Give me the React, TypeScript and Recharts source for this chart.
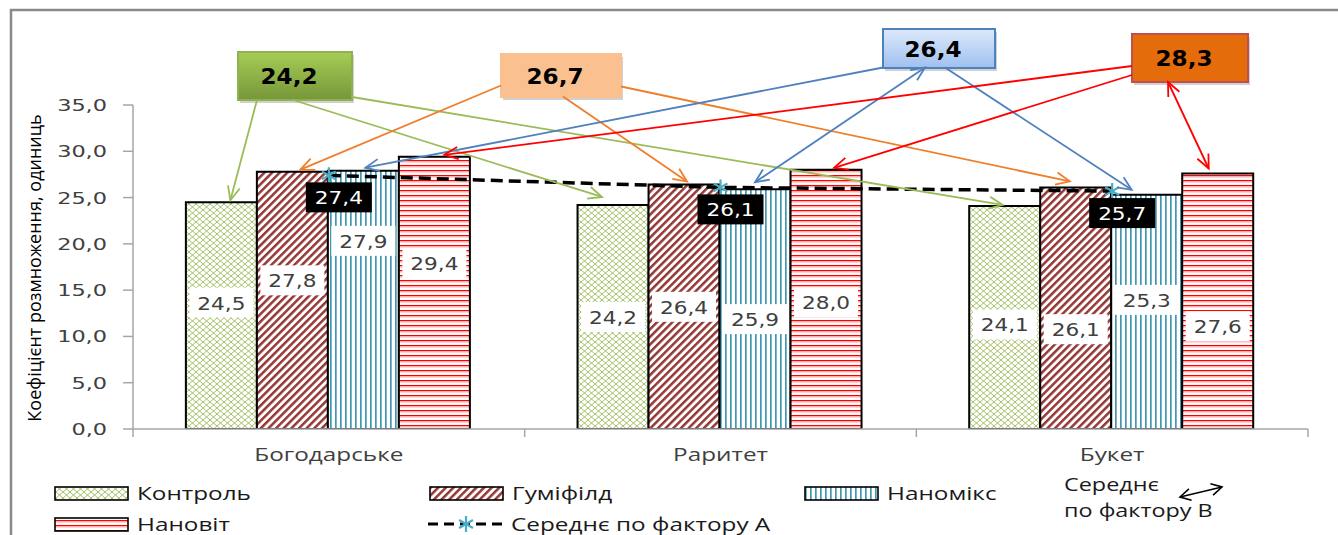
import React from 'react';
import {
  ComposedChart,
  Bar,
  Line,
  XAxis,
  YAxis,
  LabelList,
  Customized,
} from 'recharts';

// ---------- data ----------
const categories = ['Богодарське', 'Раритет', 'Букет'];
const variants = ['Контроль', 'Гуміфілд', 'Наномікс', 'Нановіт'];
const controlValues = [24.5, 24.2, 24.1];
const humifieldValues = [27.8, 26.4, 26.1];
const nanomixValues = [27.9, 25.9, 25.3];
const nanovitValues = [29.4, 28.0, 27.6];
const meanFactorA = [27.4, 26.1, 25.7];
const meanFactorB = [24.2, 26.7, 26.4, 28.3];
const yTicks = [0, 5, 10, 15, 20, 25, 30, 35];
const meanALegend = 'Середнє по фактору А';
const meanBLegend = ['Середнє', 'по фактору В'];
const yAxisTitle = 'Коефіцієнт розмноження, одиниць';

const seriesKeys = ['control', 'humifield', 'nanomix', 'nanovit'];

const chartData = categories.map((name, i) => ({
  name,
  control: controlValues[i],
  humifield: humifieldValues[i],
  nanomix: nanomixValues[i],
  nanovit: nanovitValues[i],
  meanA: meanFactorA[i],
}));

// ---------- layout & style ----------
const W = 1338;
const H = 535;
const X_AXIS_H = 30;
const MARGIN = { top: 105, right: 30, bottom: 106 - X_AXIS_H, left: 73 };
const Y_AXIS_W = 60;
const GAP = 0.135; // category gap on each side of a bar group

const NUM_FONT = '"DejaVu Sans", Verdana, sans-serif';
const TXT_FONT = '"Open Sans", "Noto Sans", sans-serif';
const AXIS_GREY = '#a6a6a6';
const TEXT_GREY = '#404040';

const FILLS = ['url(#fill-control)', 'url(#fill-humifield)', 'url(#fill-nanomix)', 'url(#fill-nanovit)'];
const ARROW_COLORS = ['#9bbb59', '#ef7f2a', '#4f81bd', '#ff0000'];

// vertical shift (px) of each in-bar value label from the bar middle
const LABEL_SHIFT = [
  [-13, 0, 7],
  [-20, 0, 21],
  [-59, 10, -12],
  [-30, 3, 25],
];

// boxes holding the factor-B means (centre and size in px)
const BOXES = [
  { cx: 295, cy: 76, w: 114, h: 48, fill: 'url(#box-green)', stroke: '#8db24f' },
  { cx: 561, cy: 75.5, w: 120, h: 43, fill: '#fac090', stroke: '#fac090' },
  { cx: 939, cy: 48.5, w: 112, h: 39, fill: 'url(#box-blue)', stroke: '#4f81bd' },
  { cx: 1190, cy: 58, w: 116, h: 48, fill: '#e46c0a', stroke: '#c0504d' },
];

// arrow offsets (px): start relative to box centre, tip relative to bar top centre
type ArrowSpec = { from: [number, number]; to: [number, number]; both?: boolean };
const ARROWS: ArrowSpec[][] = [
  [
    { from: [-38, 24], to: [9, -2] },
    { from: [-2, 24], to: [-11, -8] },
    { from: [57, 21], to: [-2, -1] },
  ],
  [
    { from: [-60, 10], to: [8, -2] },
    { from: [2, 21], to: [3, -3] },
    { from: [60, 11], to: [-6, -6] },
  ],
  [
    { from: [-56, 19], to: [2, -3] },
    { from: [-14, 19], to: [0, -7], both: true },
    { from: [6, 19], to: [-15, -5] },
  ],
  [
    { from: [-58, 8], to: [10, -2] },
    { from: [-58, 17], to: [8, -2] },
    { from: [-22, 24], to: [-9, -5], both: true },
  ],
];

// ---------- helpers ----------
type STextProps = {
  x: number;
  y: number;
  sx?: number;
  anchor?: 'start' | 'middle' | 'end';
  size: number;
  family: string;
  weight?: string | number;
  fill: string;
  children: React.ReactNode;
};
const SText = ({ x, y, sx = 1, anchor = 'start', size, family, weight = 'normal', fill, children }: STextProps) => (
  <text
    transform={`translate(${x},${y}) scale(${sx},1)`}
    textAnchor={anchor}
    fontSize={size}
    fontFamily={family}
    fontWeight={weight}
    fill={fill}
  >
    {children}
  </text>
);

const fmt = (v: number) => v.toFixed(1).replace('.', ',');

const headPath = (x1: number, y1: number, x2: number, y2: number, len = 15, ang = 0.42) => {
  const a = Math.atan2(y2 - y1, x2 - x1);
  const ax = x2 - len * Math.cos(a - ang);
  const ay = y2 - len * Math.sin(a - ang);
  const bx = x2 - len * Math.cos(a + ang);
  const by = y2 - len * Math.sin(a + ang);
  return `M${ax},${ay} L${x2},${y2} L${bx},${by}`;
};

const Star = ({ cx, cy, r = 8, color = '#4bacc6' }: { cx: number; cy: number; r?: number; color?: string }) => {
  const dx = r * Math.cos(Math.PI / 6);
  const dy = r * Math.sin(Math.PI / 6);
  return (
    <g stroke={color} strokeWidth={2.2}>
      <line x1={cx} y1={cy - r} x2={cx} y2={cy + r} />
      <line x1={cx - dx} y1={cy - dy} x2={cx + dx} y2={cy + dy} />
      <line x1={cx - dx} y1={cy + dy} x2={cx + dx} y2={cy - dy} />
    </g>
  );
};

const YTick = (props: any) => {
  const { x, y, payload } = props;
  return (
    <SText x={x} y={y + 6} anchor="end" sx={1.4} size={16} family={NUM_FONT} fill={TEXT_GREY}>
      {fmt(payload.value)}
    </SText>
  );
};

// category label plus the divider ticks at the edges of each category band
const CatTick = (props: any) => {
  const { x, y, payload, index, visibleTicksCount, width } = props;
  const count = Number(visibleTicksCount) || categories.length;
  const band = Number(width) / count;
  const edges = [x - band / 2];
  if (index === count - 1) edges.push(x + band / 2);
  return (
    <g>
      {Number.isFinite(band)
        ? edges.map((ex, k) => (
            <line key={k} x1={ex} y1={y} x2={ex} y2={y + 8} stroke={AXIS_GREY} strokeWidth={1.5} />
          ))
        : null}
      <SText x={x} y={y + 32} anchor="middle" sx={1.35} size={18} family={TXT_FONT} fill={TEXT_GREY}>
        {payload.value}
      </SText>
    </g>
  );
};

const makeBarLabel = (s: number) => (props: any) => {
  const { x, y, width, height, value, index } = props;
  const cx = x + width / 2;
  const cy = y + height / 2 + LABEL_SHIFT[s][index];
  return (
    <g key={`bl-${s}-${index}`}>
      <rect x={cx - 32} y={cy - 15} width={64} height={30} fill="#ffffff" />
      <SText x={cx} y={cy + 7} anchor="middle" sx={1.2} size={18} family={NUM_FONT} fill={TEXT_GREY}>
        {fmt(value)}
      </SText>
    </g>
  );
};

// arrow from the factor-B box of a variant down to the top of its bar
const makeBarArrow = (s: number) => (props: any) => {
  const { x, y, width, index } = props;
  const spec = ARROWS[s][index];
  const box = BOXES[s];
  const x1 = box.cx + spec.from[0];
  const y1 = box.cy + spec.from[1];
  const x2 = x + width / 2 + spec.to[0];
  const y2 = y + spec.to[1];
  return (
    <g key={`ar-${s}-${index}`} fill="none" stroke={ARROW_COLORS[s]} strokeWidth={1.8}>
      <line x1={x1} y1={y1} x2={x2} y2={y2} />
      <path d={headPath(x1, y1, x2, y2)} />
      {spec.both ? <path d={headPath(x2, y2, x1, y1)} /> : null}
    </g>
  );
};

const MeanALabel = (props: any) => {
  const { x, y, value, index } = props;
  const cx = x + 10;
  const cy = y + 22;
  return (
    <g key={`ml-${index}`}>
      <rect x={cx - 33} y={cy - 15} width={66} height={30} fill="#000000" />
      <SText x={cx} y={cy + 7} anchor="middle" sx={1.2} size={18} family={NUM_FONT} fill="#ffffff">
        {fmt(value)}
      </SText>
    </g>
  );
};

// ---------- frame, mean boxes, axis title and legend ----------
const SWATCH_SLOTS = [
  { x: 55, y: 487 },
  { x: 430, y: 487 },
  { x: 805, y: 487 },
  { x: 55, y: 518 },
];

const Overlay = () => (
  <g>
    <rect x={11} y={10} width={1400} height={600} fill="none" stroke="#8a8a8a" strokeWidth={2.5} />
    {BOXES.map((b, s) => (
      <g key={`box-${s}`}>
        <rect x={b.cx - b.w / 2 + 2} y={b.cy - b.h / 2 + 3} width={b.w} height={b.h} fill="rgba(0,0,0,0.18)" />
        <rect x={b.cx - b.w / 2} y={b.cy - b.h / 2} width={b.w} height={b.h} fill={b.fill} stroke={b.stroke} strokeWidth={2} />
        <SText x={b.cx - 6} y={b.cy + 8} anchor="middle" sx={1.1} size={21} family={NUM_FONT} weight="bold" fill="#000">
          {fmt(meanFactorB[s])}
        </SText>
      </g>
    ))}
    <text
      transform="translate(41,268) rotate(-90)"
      textAnchor="middle"
      fontFamily={TXT_FONT}
      fontSize={18}
      fill="#000"
    >
      {yAxisTitle}
    </text>
    {variants.map((name, i) => {
      const slot = SWATCH_SLOTS[i];
      return (
        <g key={name}>
          <rect x={slot.x} y={slot.y} width={73} height={13} fill={FILLS[i]} stroke="#000" strokeWidth={1.6} />
          <SText x={slot.x + 82} y={slot.y + 13} sx={1.35} size={18} family={TXT_FONT} fill="#1a1a1a">
            {name}
          </SText>
        </g>
      );
    })}
    <g>
      <line x1={428} y1={524} x2={503} y2={524} stroke="#000" strokeWidth={3} strokeDasharray="10 6" />
      <Star cx={466} cy={524} r={8} />
      <SText x={511} y={531} sx={1.35} size={18} family={TXT_FONT} fill="#1a1a1a">
        {meanALegend}
      </SText>
    </g>
    <g>
      <SText x={1064} y={491} sx={1.3} size={18} family={TXT_FONT} fill="#1a1a1a">
        {meanBLegend[0]}
      </SText>
      <SText x={1064} y={517} sx={1.3} size={18} family={TXT_FONT} fill="#1a1a1a">
        {meanBLegend[1]}
      </SText>
      <g fill="none" stroke="#000" strokeWidth={1.6}>
        <line x1={1180} y1={497} x2={1222} y2={487} />
        <path d={headPath(1180, 497, 1222, 487, 12, 0.5)} />
        <path d={headPath(1222, 487, 1180, 497, 12, 0.5)} />
      </g>
    </g>
  </g>
);

const Patterns = () => (
  <svg width={0} height={0} style={{ position: 'absolute' }}>
    <defs>
      <pattern id="fill-control" patternUnits="userSpaceOnUse" width={7} height={6}>
        <rect width={7} height={6} fill="#ffffff" />
        <path d="M0,0 L7,6 M7,0 L0,6" stroke="#9bbb59" strokeWidth={0.9} />
      </pattern>
      <pattern id="fill-humifield" patternUnits="userSpaceOnUse" width={5.4} height={5.4} patternTransform="rotate(45)">
        <rect width={5.4} height={5.4} fill="#ffffff" />
        <rect width={2.5} height={5.4} fill="#953735" />
      </pattern>
      <pattern id="fill-nanomix" patternUnits="userSpaceOnUse" width={5} height={5}>
        <rect width={5} height={5} fill="#ffffff" />
        <rect width={1.7} height={5} fill="#4197b0" />
      </pattern>
      <pattern id="fill-nanovit" patternUnits="userSpaceOnUse" width={5} height={5}>
        <rect width={5} height={5} fill="#ffffff" />
        <rect y={0} width={5} height={1.3} fill="#ff0000" />
        <rect y={1.3} width={5} height={1.2} fill="#ffaaaa" />
      </pattern>
      <linearGradient id="box-green" x1="0" y1="0" x2="0" y2="1">
        <stop offset="0%" stopColor="#a6cd55" />
        <stop offset="100%" stopColor="#77963a" />
      </linearGradient>
      <linearGradient id="box-blue" x1="0" y1="0" x2="0" y2="1">
        <stop offset="0%" stopColor="#dde9fb" />
        <stop offset="100%" stopColor="#9fc0ef" />
      </linearGradient>
    </defs>
  </svg>
);

export default function App() {
  return (
    <div style={{ position: 'absolute', left: 0, top: 0, width: W, height: H, background: '#fff' }}>
      <Patterns />
      <ComposedChart
        width={W}
        height={H}
        data={chartData}
        margin={MARGIN}
        barCategoryGap={`${GAP * 100}%`}
        barGap={0}
      >
        <XAxis
          dataKey="name"
          axisLine={{ stroke: AXIS_GREY, strokeWidth: 1.5 }}
          tickLine={false}
          tickSize={0}
          tickMargin={0}
          tick={<CatTick />}
          interval={0}
          height={X_AXIS_H}
        />
        <YAxis
          domain={[0, 35]}
          ticks={yTicks}
          allowDataOverflow
          width={Y_AXIS_W}
          tickSize={10}
          tickMargin={16}
          tick={<YTick />}
          tickLine={{ stroke: AXIS_GREY, strokeWidth: 1.5 }}
          axisLine={{ stroke: AXIS_GREY, strokeWidth: 1.5 }}
        />
        {seriesKeys.map((key, s) => (
          <Bar
            key={key}
            dataKey={key}
            name={variants[s]}
            fill={FILLS[s]}
            stroke="#000"
            strokeWidth={2}
            isAnimationActive={false}
          >
            <LabelList dataKey={key} content={makeBarLabel(s)} />
            <LabelList dataKey={key} content={makeBarArrow(s)} />
          </Bar>
        ))}
        <Line
          dataKey="meanA"
          name={meanALegend}
          stroke="#000"
          strokeWidth={3.5}
          strokeDasharray="12 6"
          dot={(p: any) => <Star key={`st-${p.index}`} cx={p.cx} cy={p.cy} />}
          activeDot={false}
          isAnimationActive={false}
        >
          <LabelList dataKey="meanA" content={MeanALabel} />
        </Line>
        <Customized component={<Overlay />} />
      </ComposedChart>
    </div>
  );
}
